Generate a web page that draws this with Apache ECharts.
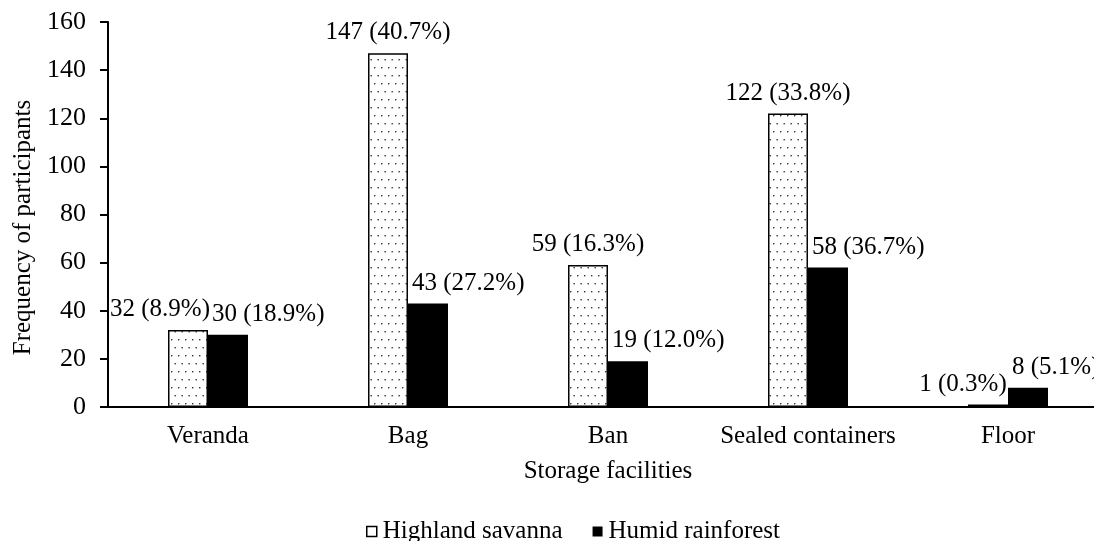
<!DOCTYPE html>
<html>
<head>
<meta charset="utf-8">
<script src="https://cdn.jsdelivr.net/npm/echarts@6/dist/echarts.min.js"></script>
<style>
  html, body { margin: 0; padding: 0; background: #fff; }
  #chart { width: 1094px; height: 541px; }
</style>
</head>
<body>
<div id="chart"></div>
<script>
const categories = ['Veranda', 'Bag', 'Ban', 'Sealed containers', 'Floor']
const highland = [32, 147, 59, 122, 1]
const highlandPct = ['8.9', '40.7', '16.3', '33.8', '0.3']
const humid = [30, 43, 19, 58, 8]
const humidPct = ['18.9', '27.2', '12.0', '36.7', '5.1']
const yTicks = [0, 160, 20]

const FONT = '"Liberation Serif", "DejaVu Serif", serif'

// dotted fill for the savanna bars
function dots() {
  const c = document.createElement('canvas')
  c.width = 14
  c.height = 16
  const ctx = c.getContext('2d')
  ctx.fillStyle = '#fff'
  ctx.fillRect(0, 0, 14, 16)
  ctx.fillStyle = '#333'
  ctx.fillRect(3, 3, 1.4, 1.4)
  ctx.fillRect(10, 3, 1.4, 1.4)
  ctx.fillRect(6.5, 11, 1.4, 1.4)
  ctx.fillRect(13.5, 11, 1.4, 1.4)
  ctx.fillRect(-0.5, 11, 1.4, 1.4)
  return c
}

const leftShift = { 0: -28, 4: -25 }

const chart = echarts.init(document.getElementById('chart'))
chart.setOption({
  animation: false,
  textStyle: { fontFamily: FONT },
  grid: { left: 108, top: 22, width: 1000, bottom: 134, outerBoundsMode: 'none', containLabel: false },
  legend: {
    bottom: -8,
    left: 361,
    itemWidth: 10,
    itemHeight: 10,
    itemGap: 30,
    textStyle: { fontFamily: FONT, fontSize: 25, color: '#000', padding: [0, 0, 0, 1] },
    data: [
      { name: 'Highland savanna', icon: 'rect', itemStyle: { color: '#fff', borderColor: '#000', borderWidth: 1.5 } },
      { name: 'Humid rainforest', icon: 'rect' }
    ]
  },
  xAxis: {
    type: 'category',
    data: categories,
    name: 'Storage facilities',
    nameLocation: 'middle',
    nameGap: 52,
    nameTextStyle: { fontFamily: FONT, fontSize: 25, color: '#000' },
    axisLine: { lineStyle: { color: '#000', width: 2 } },
    axisTick: { show: false },
    axisLabel: { fontFamily: FONT, fontSize: 25, color: '#000', margin: 17, interval: 0 }
  },
  yAxis: {
    type: 'value',
    min: yTicks[0],
    max: yTicks[1],
    interval: yTicks[2],
    name: 'Frequency of participants',
    nameLocation: 'middle',
    nameGap: 60,
    nameTextStyle: { fontFamily: FONT, fontSize: 25, color: '#000', padding: [0, 26, 0, 0] },
    splitLine: { show: false },
    axisLine: { show: true, lineStyle: { color: '#000', width: 2 } },
    axisTick: { show: true, length: 8, lineStyle: { color: '#000', width: 2 } },
    axisLabel: { fontFamily: FONT, fontSize: 26, color: '#000', margin: 22 }
  },
  series: [
    {
      name: 'Highland savanna',
      type: 'bar',
      barWidth: 40,
      barGap: '0%',
      z: 3,
      itemStyle: { color: { image: dots(), repeat: 'repeat' }, borderColor: '#000', borderWidth: 1.5 },
      data: highland.map((v, i) => ({
        value: v,
        label: { offset: [leftShift[i] || 0, 0] }
      })),
      label: {
        show: true,
        position: 'top',
        distance: 8,
        fontFamily: FONT,
        fontSize: 25,
        color: '#000',
        formatter: p => p.value + ' (' + highlandPct[p.dataIndex] + '%)'
      }
    },
    {
      name: 'Humid rainforest',
      type: 'bar',
      barWidth: 40,
      z: 4,
      itemStyle: { color: '#000' },
      data: humid,
      label: {
        show: true,
        position: [4, -8],
        align: 'left',
        verticalAlign: 'bottom',
        fontFamily: FONT,
        fontSize: 25,
        color: '#000',
        formatter: p => p.value + ' (' + humidPct[p.dataIndex] + '%)'
      }
    }
  ]
})
</script>
</body>
</html>
